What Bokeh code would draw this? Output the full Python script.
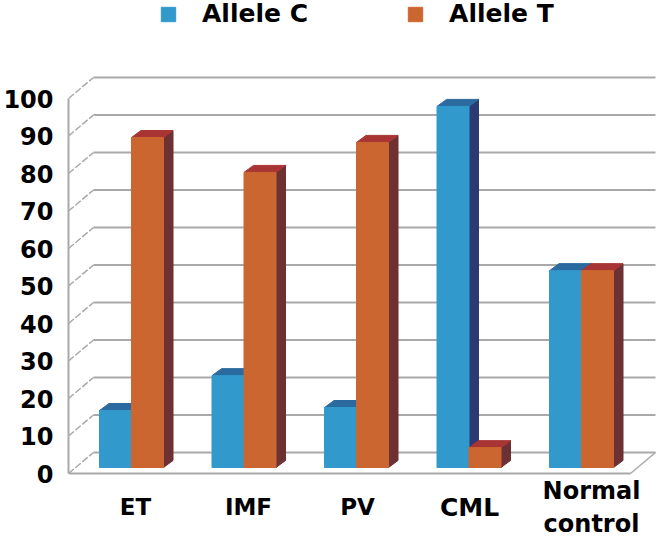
from bokeh.plotting import figure
from bokeh.models import Legend, LegendItem, Range1d, LinearAxis, FixedTicker
from bokeh.embed import file_html
from bokeh.resources import INLINE

categories_a = ["ET", "IMF", "PV"]
categories_b = ["CML"]
last_category = "Normal\ncontrol"
allele_c = [15.2, 24.5, 16, 96.3, 52.5]
allele_t = [88, 78.7, 86.7, 5.3, 52.5]
y_ticks = list(range(0, 101, 10))
label_px_a = [135, 248, 357]
label_px_b = [469]
last_label_px = 591

FONT = "DejaVu Sans"
W, H = 662, 538
PX = 112.5          # px per category
PY = 3.75           # px per value unit
x0, x1 = (68 - 131) / PX, (662 - 131) / PX
ytop = 473 / PY
ybot = -65 / PY
floor_dx, floor_dy = 25 / PX, 21 / PY      # depth of the chart box
bar_dx, bar_dy = 9.5 / PX, 7 / PY          # depth of a bar
base = 6 / PY                              # bars sit slightly above the front edge
bw = 32 / PX
floor_right = (630 - 131) / PX

p = figure(width=W, height=H, output_backend="svg", toolbar_location=None,
           x_range=Range1d(x0, x1), y_range=Range1d(ybot, ytop),
           x_axis_type=None, y_axis_type=None,
           min_border_left=68, min_border_right=0, min_border_top=0, min_border_bottom=0,
           outline_line_color=None, background_fill_color="white")
p.grid.visible = False
p.extra_x_ranges["px"] = Range1d(68, 662)

GRID = "#a9a9a9"
# back-wall gridlines
p.segment(x0 + floor_dx, [v + floor_dy for v in y_ticks], floor_right + floor_dx,
          [v + floor_dy for v in y_ticks], line_color=GRID, line_width=2)
# left-wall slanted lines
p.segment(x0, y_ticks, x0 + floor_dx, [v + floor_dy for v in y_ticks],
          line_color=GRID, line_width=1.5, line_dash="7 2")
# right floor edge
p.segment([floor_right], [0], [floor_right + floor_dx], [floor_dy],
          line_color=GRID, line_width=1.5)


def bars(left_offset, vals, front, side, top):
    lefts = [i + left_offset for i in range(len(vals))]
    rights = [l + bw for l in lefts]
    tops = [base + v for v in vals]
    p.patches([[r, r + bar_dx, r + bar_dx, r] for r in rights],
              [[base, base + bar_dy, t + bar_dy, t] for t in tops],
              fill_color=side, line_color=side)
    p.patches([[l, r, r + bar_dx, l + bar_dx] for l, r in zip(lefts, rights)],
              [[t, t, t + bar_dy, t + bar_dy] for t in tops],
              fill_color=top, line_color=top)
    return p.quad(left=lefts, right=rights, bottom=base, top=tops,
                  fill_color=front, line_color=front)


r_c = bars(-bw, allele_c, "#3299cd", "#2b3a72", "#2a6a9e")
r_t = bars(0, allele_t, "#cb6630", "#6d3033", "#a83434")

yaxis = LinearAxis(ticker=FixedTicker(ticks=y_ticks), bounds=(0, 100),
                   axis_line_color=GRID, axis_line_width=2,
                   major_tick_line_color=None, minor_tick_line_color=None,
                   major_tick_out=0, minor_tick_out=0,
                   major_label_standoff=15,
                   major_label_text_font=FONT, major_label_text_font_style="bold",
                   major_label_text_font_size="24px", major_label_text_color="black")
p.add_layout(yaxis, "left")


def xaxis(ticks, overrides, standoff, line_color, size):
    ax = LinearAxis(x_range_name="px", ticker=FixedTicker(ticks=ticks),
                    major_label_overrides=overrides, bounds=(68, 630), fixed_location=0,
                    axis_line_color=line_color, axis_line_width=2,
                    major_tick_line_color=None, minor_tick_line_color=None,
                    major_tick_out=0, minor_tick_out=0,
                    major_label_standoff=standoff,
                    major_label_text_font=FONT, major_label_text_font_style="bold",
                    major_label_text_font_size=size, major_label_text_color="black")
    p.add_layout(ax, "below")


xaxis(label_px_a, dict(zip(label_px_a, categories_a)), 20, GRID, "23px")
xaxis(label_px_b, dict(zip(label_px_b, categories_b)), 19, None, "25px")
xaxis([last_label_px], {last_label_px: last_category}, 3, None, "24px")

legend = Legend(items=[LegendItem(label="Allele C", renderers=[r_c]),
                       LegendItem(label="Allele T", renderers=[r_t])],
                orientation="horizontal", location=(91, 510),
                glyph_width=18, glyph_height=18, label_standoff=25, spacing=98,
                padding=0, margin=0, border_line_color=None, background_fill_alpha=0,
                label_text_font=FONT, label_text_font_style="bold",
                label_text_font_size="25px", label_text_color="black")
p.add_layout(legend, "center")

open("out.html", "w").write(file_html(p, INLINE))
